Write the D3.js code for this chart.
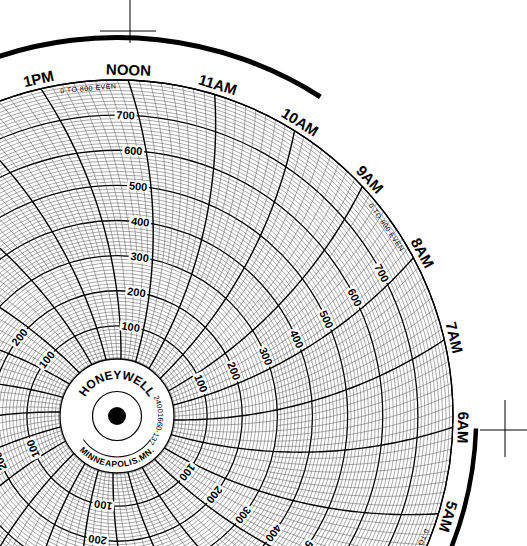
<!DOCTYPE html>
<html>
<head>
<meta charset="utf-8">
<script src="https://cdn.jsdelivr.net/npm/d3@7"></script>
<style>
  body { margin: 0; background: #fff; }
  text { font-family: "Liberation Sans", Arial, sans-serif; }
</style>
</head>
<body>
<svg id="chart" width="527" height="546"></svg>
<script>
// chart data
var hourLabels = ['MIDNIGHT','1AM','2AM','3AM','4AM','5AM','6AM','7AM','8AM','9AM','10AM','11AM',
                  'NOON','1PM','2PM','3PM','4PM','5PM','6PM','7PM','8PM','9PM','10PM','11PM'];
var valueTicks = [100, 200, 300, 400, 500, 600, 700];
var labelHours = [12, 8, 4, 0, 20, 16];
var rangeText = '0 TO 800 EVEN';

var cx = 117, cy = 416;
var svg = d3.select('#chart');
var g = svg.append('g');

var r = d3.scaleLinear().domain([0, 800]).range([55, 336]);
var R = r(800);
var armD = 480;
var deg = Math.PI / 180;

function phi(rad) { return Math.acos(rad / (2 * armD)) / deg; }
function baseAngle(h) { return 1.9 + (12 - h) * 15; }
function lineAngle(h, rad) { return baseAngle(h) + phi(rad) - phi(R); }
function pt(a, rad) { return [cx + rad * Math.sin(a * deg), cy - rad * Math.cos(a * deg)]; }

var line = d3.line();

// concentric value circles
var circles = d3.range(0, 810, 10);
g.selectAll('circle.val')
    .data(circles)
  .enter().append('circle')
    .attr('cx', cx).attr('cy', cy)
    .attr('r', function(d) { return r(d); })
    .attr('fill', 'none')
    .attr('stroke', function(d) { return d % 100 == 0 ? '#000' : '#555'; })
    .attr('stroke-width', function(d) { return d % 100 == 0 ? 1.3 : 0.5; });

// time lines
var times = d3.range(0, 24, 0.125);
g.selectAll('path.time')
    .data(times)
  .enter().append('path')
    .attr('d', function(h) {
      var quarter = Math.abs(h * 4 - Math.round(h * 4)) < 1e-6;
      var start = quarter ? r(0) : r(300);
      var pts = d3.range(start, R + 0.1, 4).concat([R]).map(function(rad) {
        return pt(lineAngle(h, rad), rad);
      });
      return line(pts);
    })
    .attr('fill', 'none')
    .attr('stroke', function(h) { return h % 1 == 0 ? '#000' : '#555'; })
    .attr('stroke-width', function(h) { return h % 1 == 0 ? 1.4 : 0.5; });

// value labels along every fourth hour
var valueLabels = [];
labelHours.forEach(function(h) {
  valueTicks.forEach(function(v) {
    var rad = r(v);
    var a = lineAngle(h, rad) - 13 / rad / deg;
    valueLabels.push({ h: h, v: v, a: a, rad: rad });
  });
});
var vl = g.selectAll('g.vlabel')
    .data(valueLabels)
  .enter().append('g')
    .attr('transform', function(d) {
      var p = pt(d.a, d.rad);
      return 'translate(' + p[0] + ',' + p[1] + ') rotate(' + d.a + ')';
    });
vl.append('rect')
    .attr('x', -11).attr('y', -5).attr('width', 22).attr('height', 10)
    .attr('fill', '#fff');
vl.append('text')
    .attr('text-anchor', 'middle')
    .attr('dy', '0.35em')
    .attr('font-size', '11px')
    .attr('font-weight', 'bold')
    .text(function(d) { return d.v; });

// outer rim
g.append('circle')
    .attr('cx', cx).attr('cy', cy).attr('r', R)
    .attr('fill', 'none').attr('stroke', '#000').attr('stroke-width', 1.3);

// range notes
g.selectAll('text.range')
    .data(d3.range(-5, 355, 60))
  .enter().append('text')
    .attr('transform', function(a) {
      var p = pt(a, 329);
      return 'translate(' + p[0] + ',' + p[1] + ') rotate(' + a + ')';
    })
    .attr('text-anchor', 'middle')
    .attr('dy', '0.35em')
    .attr('font-size', '7px')
    .attr('letter-spacing', '0.5px')
    .text(rangeText);

// hour labels
g.selectAll('text.hour')
    .data(hourLabels)
  .enter().append('text')
    .attr('transform', function(d, i) {
      var a = baseAngle(i);
      var p = pt(a, 341);
      return 'translate(' + p[0] + ',' + p[1] + ') rotate(' + a + ')';
    })
    .attr('text-anchor', 'middle')
    .attr('font-size', '15px')
    .attr('font-weight', 'bold')
    .text(function(d) { return d; });

// hub
g.append('circle').attr('cx', cx).attr('cy', cy).attr('r', 57)
    .attr('fill', '#fff').attr('stroke', '#000').attr('stroke-width', 1.3);
g.append('circle').attr('cx', cx).attr('cy', cy).attr('r', 24.5)
    .attr('fill', 'none').attr('stroke', '#000').attr('stroke-width', 1.2);
g.append('circle').attr('cx', cx).attr('cy', cy).attr('r', 9).attr('fill', '#000');

var arc = d3.arc();
g.append('path')
    .attr('transform', 'translate(' + cx + ',' + cy + ')')
    .attr('d', arc({ innerRadius: 40.5, outerRadius: 41.5, startAngle: 125 * deg, endAngle: 235 * deg }))
    .attr('fill', '#000');

function arcPath(rad, a0, a1, sweep) {
  var p0 = pt(a0, rad), p1 = pt(a1, rad);
  return 'M' + p0[0] + ',' + p0[1] + ' A' + rad + ',' + rad + ' 0 0,' + sweep + ' ' + p1[0] + ',' + p1[1];
}
var defs = svg.append('defs');
defs.append('path').attr('id', 'pTop').attr('d', arcPath(37, -75, 75, 1));
defs.append('path').attr('id', 'pBot').attr('d', arcPath(51, 250, 110, 0));
defs.append('path').attr('id', 'pRight').attr('d', arcPath(41, 40, 160, 1));

g.append('text').attr('font-size', '12px').attr('font-weight', 'bold')
  .append('textPath').attr('href', '#pTop').attr('startOffset', '50%').attr('text-anchor', 'middle')
    .text('HONEYWELL');
g.append('text').attr('font-size', '8.5px').attr('font-weight', 'bold').attr('letter-spacing', '0.5px')
  .append('textPath').attr('href', '#pBot').attr('startOffset', '50%').attr('text-anchor', 'middle')
    .text('MINNEAPOLIS.MN.');
g.append('text').attr('font-size', '7.5px')
  .append('textPath').attr('href', '#pRight').attr('startOffset', '47%').attr('text-anchor', 'middle')
    .text('24001660-137');

// heavy outer arcs
g.append('path')
    .attr('transform', 'translate(' + cx + ',' + cy + ')')
    .attr('d', arc({ innerRadius: 376, outerRadius: 381, startAngle: -20 * deg, endAngle: 32.5 * deg }))
    .attr('fill', '#000');
g.append('path')
    .attr('transform', 'translate(' + cx + ',' + cy + ')')
    .attr('d', arc({ innerRadius: 357, outerRadius: 361.5, startAngle: 92 * deg, endAngle: 115 * deg }))
    .attr('fill', '#000');

// crosshairs
var marks = [[130, 31, 100, 156, 0, 43], [505, 430, 480, 527, 400, 457]];
marks.forEach(function(m) {
  g.append('line').attr('x1', m[2]).attr('x2', m[3]).attr('y1', m[1]).attr('y2', m[1])
    .attr('stroke', '#000').attr('stroke-width', 1);
  g.append('line').attr('x1', m[0]).attr('x2', m[0]).attr('y1', m[4]).attr('y2', m[5])
    .attr('stroke', '#000').attr('stroke-width', 1);
});
</script>
</body>
</html>
